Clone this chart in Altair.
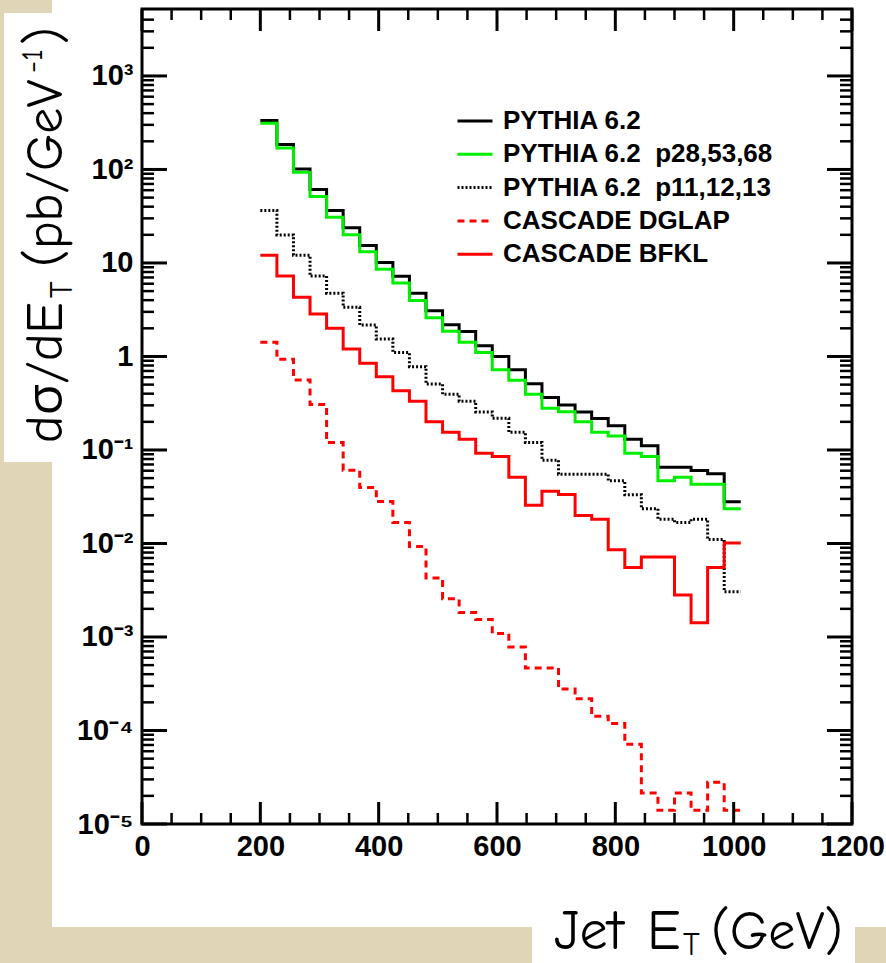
import altair as alt
import pandas as pd

# ---------------- data ----------------
edges = [200, 228, 256, 284, 312, 340, 368, 396, 424, 452, 480, 508, 536, 564, 592,
         620, 648, 676, 704, 732, 760, 788, 816, 844, 872, 900, 928, 956, 984, 1012]

pythia = [334, 185, 101, 61.1, 36.5, 23.8, 15.4, 10.1, 7.19, 4.73, 3.09, 2.19, 1.85, 1.30, 1.00,
          0.723, 0.512, 0.363, 0.303, 0.255, 0.217, 0.182, 0.130, 0.111, 0.0655, 0.0655, 0.0602,
          0.0556, 0.0279]
pythia_p28 = [312, 170, 93.6, 51.5, 30.9, 20.0, 13.2, 8.54, 6.10, 3.98, 2.60, 1.86, 1.42, 1.10, 0.723,
              0.557, 0.395, 0.280, 0.257, 0.200, 0.155, 0.141, 0.0924, 0.0850, 0.0468, 0.0512, 0.0431,
              0.0431, 0.0235]
pythia_p11 = [36.5, 19.9, 12.1, 7.24, 4.73, 3.35, 2.17, 1.54, 1.10, 0.778, 0.508, 0.395, 0.332, 0.255,
              0.219, 0.155, 0.120, 0.0778, 0.0551, 0.0551, 0.0551, 0.0468, 0.0331, 0.0235, 0.0182,
              0.0168, 0.0182, 0.0110, 0.00305]
cascade_dglap = [1.42, 0.933, 0.561, 0.307, 0.120, 0.0608, 0.0397, 0.0281, 0.0168, 0.00929, 0.00427,
                 0.00257, 0.00183, 0.00154, 0.00109, 0.000782, 0.000467, 0.000467, 0.000278, 0.000218,
                 0.000142, 0.000119, 0.0000712, 0.0000215, 0.0000140, 0.0000215, 0.0000140, 0.0000280,
                 0.0000140]
cascade_bfkl = [12.1, 7.24, 4.29, 2.85, 2.00, 1.20, 0.846, 0.608, 0.431, 0.332, 0.200, 0.155, 0.130,
                0.0924, 0.0850, 0.0512, 0.0257, 0.0363, 0.0334, 0.0199, 0.0182, 0.00856, 0.00554,
                0.00716, 0.00716, 0.00281, 0.00142, 0.00554, 0.0101]

names = ["PYTHIA 6.2", "PYTHIA 6.2\u00a0\u00a0p28,53,68", "PYTHIA 6.2\u00a0\u00a0p11,12,13",
         "CASCADE DGLAP", "CASCADE BFKL"]
series_vals = [pythia, pythia_p28, pythia_p11, cascade_dglap, cascade_bfkl]
colors = ["#000000", "#00ee00", "#000000", "#ff0000", "#ff0000"]
dashes = [[1, 0], [1, 0], [2, 2], [7, 5], [1, 0]]
widths = [3, 3, 2, 3, 3]

y_major = [1e-5, 1e-4, 1e-3, 1e-2, 1e-1, 1, 10, 100, 1000]
y_minor = [m * 10.0 ** k for k in range(-5, 3) for m in range(2, 10)] + [2000, 3000, 4000]
x_major = [0, 200, 400, 600, 800, 1000, 1200]
x_minor = [v for v in range(50, 1200, 50) if v % 200 != 0]

rows = []
for name, vals in zip(names, series_vals):
    for e, v in zip(edges, vals + [vals[-1]]):
        rows.append({"E": e, "v": v, "series": name})
df = pd.DataFrame(rows)

# ---------------- styling ----------------
W, H = 710, 815
TICK_FONT = "Liberation Sans Narrow, Arial Narrow, Liberation Sans, Arial, sans-serif"
TITLE_FONT = "Comic Sans MS, Comic Neue, Open Sans, sans-serif"
BEIGE = "#e0d5b7"

xscale = alt.Scale(domain=[0, 1200], nice=False, zero=False)
yscale = alt.Scale(type="log", domain=[1e-5, 5200], nice=False)

e = "round(log(datum.value)/LN10)"
ylabel_expr = (f"{e} == 0 ? '1' : {e} == 1 ? '10' : '10' + ({e} < 0 ? '\u207b' : '') + "
               f"['\u2070','\u00b9','\u00b2','\u00b3','\u2074','\u2075'][abs({e})]")

xaxis = alt.Axis(values=x_major, format="d", ticks=False, domain=False, grid=False, title=None,
                 labelFont=TICK_FONT, labelFontSize=29, labelFontWeight="bold", labelColor="black",
                 labelPadding=8, labelFlush=False, labelOverlap=False, zindex=1)
yaxis = alt.Axis(values=y_major, labelExpr=ylabel_expr, ticks=False, domain=False, grid=False,
                 title=None, labelFont=TICK_FONT, labelFontSize=29, labelFontWeight="bold",
                 labelColor="black", labelPadding=9, labelOverlap=False, zindex=1)

one = pd.DataFrame({"a": [0]})


def box(x1, x2, y1, y2, color):
    return alt.Chart(one).mark_rect(color=color).encode(
        x=alt.value(x1), x2=alt.value(x2), y=alt.value(y1), y2=alt.value(y2))


panel = box(-90, W + 34, -9, 918, "white")
ybox = box(-138, -60, 4, 453, "white")
xbox = box(390, 713, 884, 954, "white")

leg = dict(title=None, orient="none", legendX=314, legendY=93, symbolType="stroke",
           symbolSize=1225, labelFont=TICK_FONT, labelFontSize=26, labelFontWeight="bold",
           labelColor="black", labelOffset=9, rowPadding=1.3, padding=0, labelLimit=0, zindex=1)

lines = alt.Chart(df).mark_line(interpolate="step-after", strokeCap="butt").encode(
    x=alt.X("E:Q", scale=xscale, axis=xaxis),
    y=alt.Y("v:Q", scale=yscale, axis=yaxis),
    color=alt.Color("series:N", scale=alt.Scale(domain=names, range=colors), legend=alt.Legend(**leg)),
    strokeDash=alt.StrokeDash("series:N", scale=alt.Scale(domain=names, range=dashes),
                              legend=alt.Legend(**leg)),
    strokeWidth=alt.StrokeWidth("series:N", scale=alt.Scale(domain=names, range=widths),
                                legend=alt.Legend(**leg)),
    detail="series:N",
)


def yticks(vals, x1, x2, sw):
    return alt.Chart(pd.DataFrame({"t": vals})).mark_rule(color="black", strokeWidth=sw).encode(
        y=alt.Y("t:Q", scale=yscale, axis=yaxis), x=alt.value(x1), x2=alt.value(x2))


def xticks(vals, y1, y2, sw):
    return alt.Chart(pd.DataFrame({"t": vals})).mark_rule(color="black", strokeWidth=sw).encode(
        x=alt.X("t:Q", scale=xscale, axis=xaxis), y=alt.value(y1), y2=alt.value(y2))


ticks = [
    yticks(y_major, 0, 25, 3), yticks(y_major, W - 25, W, 3),
    yticks(y_minor, 0, 12, 2.5), yticks(y_minor, W - 12, W, 2.5),
    xticks(x_major, H, H - 22, 3), xticks(x_major, 0, 22, 3),
    xticks(x_minor, H, H - 11, 2.5), xticks(x_minor, 0, 11, 2.5),
]

frame = alt.Chart(one).mark_rect(fillOpacity=0, stroke="black", strokeWidth=3).encode(
    x=alt.value(0), x2=alt.value(W), y=alt.value(0), y2=alt.value(H))


def txt(s, x, y, size, angle=0):
    kw = dict(text=s, font=TITLE_FONT, fontSize=size, align="left", baseline="alphabetic",
              color="black")
    if angle:
        kw["angle"] = angle
    return alt.Chart(one).mark_text(**kw).encode(x=alt.value(x), y=alt.value(y))


titles = [
    txt("Jet", 412, 940, 56), txt("E", 505, 940, 56), txt("T", 541, 946, 32),
    txt("(GeV)", 569, 940, 54),
    txt("d\u03c3/dE", -80, 434, 52, 270), txt("T", -70, 289, 32, 270),
    txt("(pb/GeV", -80, 258, 52, 270), txt("-1", -100, 64, 30, 270),
    txt(")", -80, 36, 52, 270),
]

chart = alt.layer(panel, ybox, xbox, lines, *ticks, frame, *titles).properties(
    width=W, height=H,
    autosize=alt.AutoSizeParams(type="none"),
    padding={"left": 142, "top": 9, "right": 34, "bottom": 139},
    background=BEIGE,
).configure_view(stroke=None, fill=None)

chart.save("out.html", embed_options={"renderer": "svg", "actions": False})
